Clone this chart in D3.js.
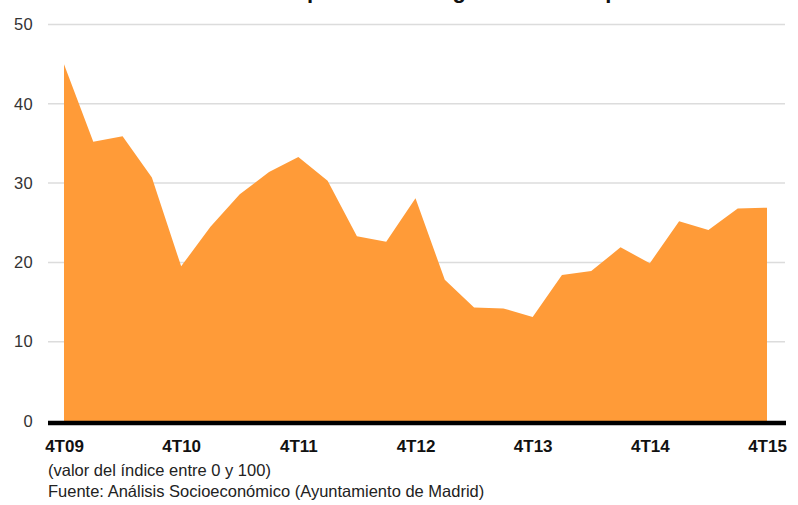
<!DOCTYPE html>
<html>
<head>
<meta charset="utf-8">
<script src="https://cdn.jsdelivr.net/npm/d3@7"></script>
<style>
  body { margin: 0; background: #fff; }
  svg { display: block; }
</style>
</head>
<body>
<div id="chart"></div>
<script>
const FILL_COLOR = "#ff9b38";
const GRID_COLOR = "#dcdcdc";

// trimestres 4T09 .. 4T15
const quarters = [
  "4T09", "1T10", "2T10", "3T10", "4T10", "1T11", "2T11", "3T11", "4T11",
  "1T12", "2T12", "3T12", "4T12", "1T13", "2T13", "3T13", "4T13",
  "1T14", "2T14", "3T14", "4T14", "1T15", "2T15", "3T15", "4T15"
];
const values = [
  45.0, 35.2, 35.9, 30.7, 19.5, 24.5, 28.6, 31.4, 33.3,
  30.3, 23.3, 22.6, 28.1, 17.8, 14.3, 14.2, 13.1,
  18.4, 18.9, 21.9, 19.9, 25.2, 24.1, 26.8, 26.9
];
const xTickLabels = ["4T09", "4T10", "4T11", "4T12", "4T13", "4T14", "4T15"];
const yTicks = [0, 10, 20, 30, 40, 50];
const notes = [
  "(valor del índice entre 0 y 100)",
  "Fuente: Análisis Socioeconómico (Ayuntamiento de Madrid)"
];
const title = "Expectativas de gasto en el empleo";

let width = 798;
let height = 505;

let svg = d3.select("#chart")
  .append("svg")
  .attr("width", width)
  .attr("height", height);

let x = d3.scalePoint().domain(quarters).range([64, 767]);
let y = d3.scaleLinear().domain([0, 50]).range([421, 24.5]);

// title, cut by the top edge like in the original
svg.append("text")
  .attr("x", 280)
  .attr("y", -2)
  .attr("font-family", "Liberation Sans, Arial, sans-serif")
  .attr("font-weight", "bold")
  .attr("font-size", "22px")
  .attr("fill", "#111")
  .text(title);

// grid
svg.append("g")
  .selectAll("line")
  .data(yTicks.filter(d => d > 0))
  .join("line")
  .attr("x1", 48)
  .attr("x2", 785)
  .attr("y1", d => y(d))
  .attr("y2", d => y(d))
  .attr("stroke", GRID_COLOR)
  .attr("stroke-width", 1.5);

// y labels
let yAxis = d3.axisLeft(y).tickValues(yTicks).tickSize(0).tickPadding(0);
let gy = svg.append("g")
  .attr("transform", "translate(33,0)")
  .call(yAxis);
gy.select(".domain").remove();
gy.selectAll("text")
  .attr("font-family", "Liberation Sans, Arial, sans-serif")
  .attr("font-size", "16.5px")
  .attr("letter-spacing", "0.3px")
  .attr("fill", "#333");

// area
let area = d3.area()
  .x((d, i) => x(quarters[i]))
  .y0(y(0))
  .y1(d => y(d));

svg.append("path")
  .datum(values)
  .attr("d", area)
  .attr("fill", FILL_COLOR);

// base line
svg.append("line")
  .attr("x1", 48)
  .attr("x2", 786)
  .attr("y1", y(0) + 2)
  .attr("y2", y(0) + 2)
  .attr("stroke", "#000")
  .attr("stroke-width", 4.5);

// x labels
let xAxis = d3.axisBottom(x).tickValues(xTickLabels).tickSize(0).tickPadding(0);
let gx = svg.append("g")
  .attr("transform", "translate(0,440)")
  .call(xAxis);
gx.select(".domain").remove();
gx.selectAll("text")
  .attr("font-family", "Liberation Sans, Arial, sans-serif")
  .attr("font-weight", "bold")
  .attr("font-size", "17px")
  .attr("fill", "#111");

// notes
svg.append("g")
  .selectAll("text")
  .data(notes)
  .join("text")
  .attr("x", 48)
  .attr("y", (d, i) => 476 + i * 21)
  .attr("font-family", "Liberation Sans, Arial, sans-serif")
  .attr("font-size", "16.5px")
  .attr("fill", "#222")
  .text(d => d);
</script>
</body>
</html>
